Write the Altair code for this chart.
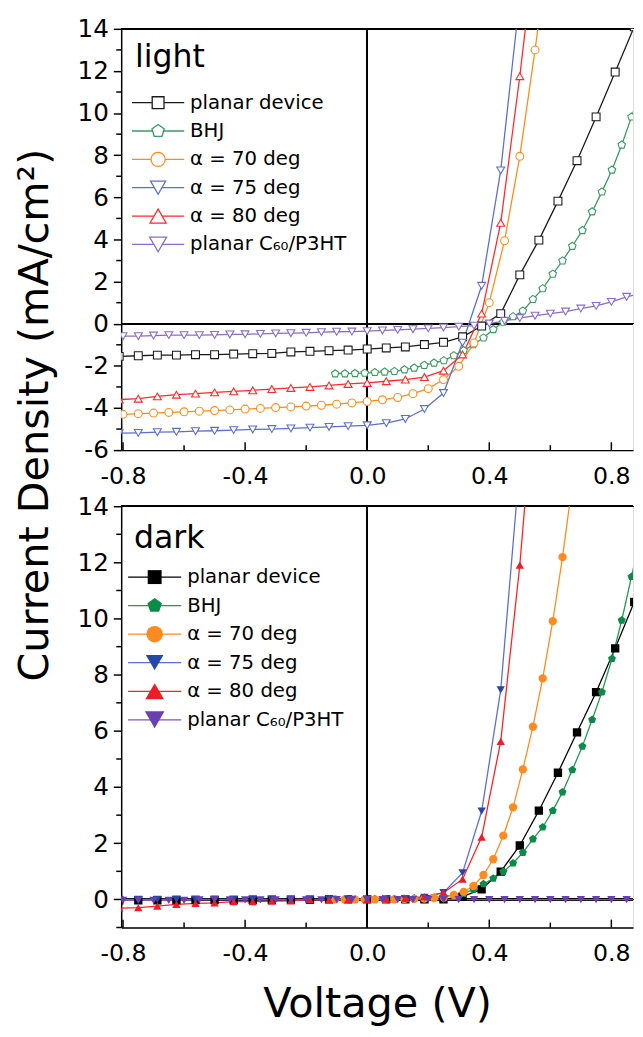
import altair as alt
import pandas as pd

SERIES = ["planar device", "BHJ", "α = 70 deg", "α = 75 deg", "α = 80 deg", "planar C₆₀/P3HT"]

# ---------------- light ----------------
L_PLANAR_V = [-0.8125, -0.75, -0.6875, -0.625, -0.5625, -0.5, -0.4375, -0.375, -0.3125, -0.25, -0.1875, -0.125,
              -0.0625, 0.0, 0.0625, 0.125, 0.1875, 0.25, 0.3125, 0.375, 0.4375, 0.5, 0.5625, 0.625, 0.6875, 0.75,
              0.8125, 0.875]
L_PLANAR_J = [-1.55, -1.52, -1.49, -1.49, -1.47, -1.47, -1.44, -1.42, -1.41, -1.34, -1.31, -1.28, -1.25, -1.20,
              -1.15, -1.10, -0.99, -0.88, -0.62, -0.11, 0.48, 2.32, 3.97, 5.82, 7.74, 9.82, 11.95, 14.1]

L_BHJ_V = [-0.105, -0.073, -0.040, -0.008, 0.025, 0.057, 0.089, 0.122, 0.154, 0.187, 0.219, 0.251, 0.284, 0.316,
           0.348, 0.381, 0.413, 0.446, 0.478, 0.510, 0.543, 0.575, 0.608, 0.640, 0.672, 0.705, 0.737, 0.769, 0.802,
           0.834, 0.866, 0.899]
L_BHJ_J = [-2.37, -2.37, -2.36, -2.34, -2.31, -2.29, -2.26, -2.18, -2.10, -1.97, -1.86, -1.75, -1.51, -1.27, -0.99,
           -0.67, -0.27, 0.08, 0.34, 0.61, 1.16, 1.67, 2.36, 2.99, 3.68, 4.43, 5.32, 6.26, 7.30, 8.49, 9.82, 11.2]

L_A70_V = [-0.8, -0.75, -0.7, -0.65, -0.6, -0.55, -0.5, -0.45, -0.4, -0.35, -0.3, -0.25, -0.2, -0.15, -0.1, -0.05,
           0.0, 0.05, 0.1, 0.15, 0.2, 0.25, 0.3, 0.35, 0.4, 0.45, 0.5, 0.55, 0.6]
L_A70_J = [-4.30, -4.27, -4.24, -4.21, -4.18, -4.15, -4.12, -4.09, -4.05, -4.02, -3.98, -3.95, -3.91, -3.87, -3.82,
           -3.76, -3.69, -3.61, -3.50, -3.32, -3.08, -2.65, -2.02, -0.91, 1.00, 3.94, 7.95, 13.0, 18.5]

L_A75_V = [-0.8125, -0.75, -0.6875, -0.625, -0.5625, -0.5, -0.4375, -0.375, -0.3125, -0.25, -0.1875, -0.125,
           -0.0625, 0.0, 0.0625, 0.125, 0.1875, 0.25, 0.3125, 0.375, 0.4375, 0.5]
L_A75_J = [-5.20, -5.18, -5.15, -5.13, -5.10, -5.08, -5.05, -5.02, -5.00, -4.97, -4.93, -4.90, -4.86, -4.82, -4.72,
           -4.52, -4.05, -3.29, -0.90, 1.80, 7.28, 15.5]

L_A80_V = [-0.8125, -0.75, -0.6875, -0.625, -0.5625, -0.5, -0.4375, -0.375, -0.3125, -0.25, -0.1875, -0.125,
           -0.0625, 0.0, 0.0625, 0.125, 0.1875, 0.25, 0.3125, 0.375, 0.4375, 0.5, 0.5625]
L_A80_J = [-3.60, -3.56, -3.45, -3.37, -3.32, -3.26, -3.21, -3.16, -3.10, -3.05, -3.00, -2.93, -2.86, -2.81, -2.73,
           -2.65, -2.53, -2.23, -1.46, 0.48, 4.79, 11.75, 19.5]

L_C60_V = [-0.8, -0.75, -0.7, -0.65, -0.6, -0.55, -0.5, -0.45, -0.4, -0.35, -0.3, -0.25, -0.2, -0.15, -0.1, -0.05,
           0.0, 0.05, 0.1, 0.15, 0.2, 0.25, 0.3, 0.35, 0.4, 0.45, 0.5, 0.55, 0.6, 0.65, 0.7, 0.75, 0.8, 0.85, 0.9]
L_C60_J = [-0.59, -0.59, -0.56, -0.54, -0.54, -0.54, -0.53, -0.51, -0.50, -0.48, -0.46, -0.45, -0.43, -0.40, -0.38,
           -0.37, -0.35, -0.32, -0.29, -0.26, -0.22, -0.18, -0.14, -0.09, 0.01, 0.14, 0.27, 0.38, 0.48, 0.58, 0.72,
           0.85, 1.04, 1.28, 1.45]

# ---------------- dark ----------------
D_PLANAR_V = [-0.8125, -0.75, -0.6875, -0.625, -0.5625, -0.5, -0.4375, -0.375, -0.3125, -0.25, -0.1875, -0.125,
              -0.0625, 0.0, 0.0625, 0.125, 0.1875, 0.25, 0.3125, 0.375, 0.4375, 0.5, 0.5625, 0.625, 0.6875, 0.75,
              0.8125, 0.875, 0.9375]
D_PLANAR_J = [-0.03, -0.03, -0.03, -0.02, -0.02, -0.02, -0.02, -0.01, -0.01, -0.01, -0.01, 0.0, 0.0, 0.0, 0.0, 0.0,
              0.0, 0.0, 0.1, 0.36, 0.99, 1.92, 3.16, 4.51, 5.95, 7.38, 8.94, 10.59, 12.3]

D_BHJ_V = L_BHJ_V
D_BHJ_J = [0.0, 0.0, 0.0, 0.0, 0.01, 0.01, 0.02, 0.03, 0.04, 0.05, 0.07, 0.10, 0.16, 0.21, 0.36, 0.55, 0.75, 0.99,
           1.29, 1.67, 2.15, 2.57, 3.16, 3.82, 4.61, 5.45, 6.40, 7.38, 8.57, 9.94, 11.49, 13.1]

D_A70_V = [-0.105, -0.073, -0.040, -0.008, 0.025, 0.057, 0.089, 0.122, 0.154, 0.187, 0.219, 0.251, 0.284, 0.316,
           0.348, 0.381, 0.413, 0.446, 0.478, 0.510, 0.543, 0.575, 0.608, 0.640, 0.672]
D_A70_J = [0.0, 0.0, 0.0, 0.0, 0.0, 0.0, 0.0, 0.01, 0.02, 0.03, 0.05, 0.07, 0.16, 0.27, 0.48, 0.87, 1.43, 2.27, 3.28,
           4.63, 6.15, 7.87, 9.91, 12.19, 14.8]

D_A75_V = L_A75_V
D_A75_J = [0.0, 0.0, 0.0, 0.0, 0.0, 0.0, 0.0, 0.0, 0.0, 0.0, 0.0, 0.0, 0.0, 0.0, 0.0, 0.02, 0.07, 0.24, 0.95, 3.14,
           7.46, 15.5]

D_A80_V = L_A80_V
D_A80_J = [-0.31, -0.29, -0.24, -0.18, -0.14, -0.12, -0.08, -0.08, -0.06, -0.05, -0.02, -0.02, -0.01, -0.01, 0.01,
           0.04, 0.10, 0.24, 0.72, 2.22, 5.63, 11.9, 20.0]

D_C60_V = L_C60_V
D_C60_J = [-0.03, -0.03, -0.03, -0.03, -0.03, -0.02, -0.02, -0.02, -0.02, -0.02, -0.02, -0.02, -0.02, -0.02, -0.01,
           -0.01, -0.01, -0.01, -0.01, -0.01, -0.01, -0.01, -0.01, -0.01, -0.01, -0.01, -0.01, -0.01, -0.01, -0.01,
           -0.01, -0.01, -0.01, -0.01, -0.01]

X_MAJOR = [-0.8, -0.4, 0.0, 0.4, 0.8]
X_MINOR = [-0.6, -0.2, 0.2, 0.6]
LIGHT_Y_MAJOR = [-6, -4, -2, 0, 2, 4, 6, 8, 10, 12, 14]
LIGHT_Y_MINOR = [-5, -3, -1, 1, 3, 5, 7, 9, 11, 13]
DARK_Y_MAJOR = [0, 2, 4, 6, 8, 10, 12, 14]
DARK_Y_MINOR = [-1, 1, 3, 5, 7, 9, 11, 13]

LIGHT_LINE = ["#1a1a1a", "#3a9a60", "#ff8c1a", "#5b6fd0", "#ff2a2a", "#8a6cc8"]
DARK_LINE = ["#000000", "#1f9a55", "#ff8c1a", "#5b6fd0", "#ff2020", "#7a55c0"]
DARK_MARK = ["#000000", "#0b8a48", "#ff8a20", "#2448a8", "#ee1c24", "#6a3fb0"]

PENTA = "M0,-1L0.951,-0.309L0.588,0.809L-0.588,0.809L-0.951,-0.309Z"
MARK_SHAPES = ["square", PENTA, "circle", "triangle-down", "triangle-up", "triangle-down"]
LIGHT_LEG_SIZES = [144, 300, 246, 330, 330, 330]
DARK_LEG_SIZES = [200, 400, 289, 420, 420, 420]

XMIN, XMAX = -0.806, 0.871
W = 520
FONT = "DejaVu Sans"


def make_df(pairs):
    rows = []
    for name, (vs, js) in zip(SERIES, pairs):
        for v, j in zip(vs, js):
            rows.append({"series": name, "V": v, "J": j})
    return pd.DataFrame(rows)


light_df = make_df([(L_PLANAR_V, L_PLANAR_J), (L_BHJ_V, L_BHJ_J), (L_A70_V, L_A70_J),
                    (L_A75_V, L_A75_J), (L_A80_V, L_A80_J), (L_C60_V, L_C60_J)])
dark_df = make_df([(D_PLANAR_V, D_PLANAR_J), (D_BHJ_V, D_BHJ_J), (D_A70_V, D_A70_J),
                   (D_A75_V, D_A75_J), (D_A80_V, D_A80_J), (D_C60_V, D_C60_J)])
legend_df = pd.DataFrame({"series": SERIES})


def panel(df, ymin, ymax, y_major, y_minor, h, name, filled, line_colors, mark_colors, y_title, x_title, leg):
    xs = alt.Scale(domain=[XMIN, XMAX], nice=False, zero=False)
    ys = alt.Scale(domain=[ymin, ymax], nice=False, zero=False)
    x_axis = alt.Axis(values=X_MAJOR, ticks=False, grid=False, labelFontSize=24, labelFont=FONT,
                      labelColor="black", labelPadding=15, labelExpr="replace(datum.label, '−', '-')",
                      labelFlush=False, labelOverlap=False, domainColor="black", domainWidth=1.5,
                      title=x_title, titleFontSize=42, titleFont=FONT, titleFontWeight="normal",
                      titleColor="black", titlePadding=18)
    y_kwargs = dict(values=y_major, grid=False, labelOverlap=False, format="d",
                    labelExpr="replace(datum.label, '−', '-')",
                    tickSize=8, tickColor="black", tickWidth=1.5, labelFontSize=25, labelFont=FONT,
                    labelColor="black", labelPadding=5, labelFlush=False, domainColor="black", domainWidth=1.5)
    if y_title:
        y_axis = alt.Axis(title=y_title, titleFontSize=42, titleFont=FONT, titleFontWeight="normal",
                          titleColor="black", titleAngle=270, titleX=-75, titleY=392,
                          titleAlign="center", titleBaseline="alphabetic", **y_kwargs)
    else:
        y_axis = alt.Axis(title="", **y_kwargs)

    X = alt.X("V:Q", scale=xs, axis=x_axis)
    Y = alt.Y("J:Q", scale=ys, axis=y_axis)
    line_scale = alt.Scale(domain=SERIES, range=line_colors)
    mark_scale = alt.Scale(domain=SERIES, range=mark_colors)
    shape_scale = alt.Scale(domain=SERIES, range=MARK_SHAPES)

    lines = alt.Chart(df).mark_line(strokeWidth=1.3, clip=True).encode(
        x=X, y=Y, color=alt.Color("series:N", scale=line_scale, legend=None))
    if filled:
        pts = alt.Chart(df).mark_point(filled=True, size=72, opacity=1, clip=True).encode(
            x=X, y=Y, fill=alt.Fill("series:N", scale=mark_scale, legend=None),
            shape=alt.Shape("series:N", scale=shape_scale, legend=None))
    else:
        pts = alt.Chart(df).mark_point(filled=False, fill="white", size=64, strokeWidth=1.1,
                                       opacity=1, clip=True).encode(
            x=X, y=Y, stroke=alt.Stroke("series:N", scale=mark_scale, legend=None),
            shape=alt.Shape("series:N", scale=shape_scale, legend=None))

    zero_h = alt.Chart(df).mark_rule(color="black", strokeWidth=1.5).encode(y=alt.datum(0))
    zero_v = alt.Chart(df).mark_rule(color="black", strokeWidth=1.5).encode(x=alt.datum(0))
    top = alt.Chart(df).mark_rule(color="black", strokeWidth=1.5).encode(y=alt.datum(ymax))
    tick_major = alt.Chart(pd.DataFrame({"V": X_MAJOR})).mark_rule(color="black", strokeWidth=1.5).encode(
        x=alt.X("V:Q"), y=alt.value(h), y2=alt.value(h - 8))
    tick_minor = alt.Chart(pd.DataFrame({"V": X_MINOR})).mark_rule(color="black", strokeWidth=1.5).encode(
        x=alt.X("V:Q"), y=alt.value(h), y2=alt.value(h - 5))
    y_minor_ticks = alt.Chart(pd.DataFrame({"J": y_minor})).mark_rule(color="black", strokeWidth=1.5).encode(
        y=alt.Y("J:Q"), x=alt.value(-5), x2=alt.value(0))

    inner = alt.layer(zero_h, zero_v, top, tick_major, tick_minor, y_minor_ticks, lines, pts)

    # ---- legend drawn inside the plot ----
    row_y = alt.Y("series:N", sort=SERIES, axis=None,
                  scale=alt.Scale(type="point", domain=SERIES, range=[leg["y0"], leg["y1"]], padding=0))
    leg_lines = alt.Chart(legend_df).mark_rule(strokeWidth=1.3).encode(
        x=alt.value(leg["x0"]), x2=alt.value(leg["x1"]), y=row_y,
        color=alt.Color("series:N", scale=line_scale, legend=None))
    size_enc = alt.Size("series:N", scale=alt.Scale(domain=SERIES, range=leg["sizes"]), legend=None)
    if filled:
        leg_pts = alt.Chart(legend_df).mark_point(filled=True, opacity=1).encode(
            x=alt.value(leg["xm"]), y=row_y, size=size_enc,
            fill=alt.Fill("series:N", scale=mark_scale, legend=None),
            shape=alt.Shape("series:N", scale=shape_scale, legend=None))
    else:
        leg_pts = alt.Chart(legend_df).mark_point(filled=False, fill="white", strokeWidth=1.3,
                                                  opacity=1).encode(
            x=alt.value(leg["xm"]), y=row_y, size=size_enc,
            stroke=alt.Stroke("series:N", scale=mark_scale, legend=None),
            shape=alt.Shape("series:N", scale=shape_scale, legend=None))
    leg_text = alt.Chart(legend_df).mark_text(align="left", baseline="middle", font=FONT, fontSize=20,
                                              color="black").encode(
        x=alt.value(leg["xt"]), y=row_y, text="series:N")
    leg_title = alt.Chart(pd.DataFrame({"t": [name]})).mark_text(
        align="left", baseline="alphabetic", font=FONT, fontSize=32, color="black").encode(
        x=alt.value(leg["tx"]), y=alt.value(leg["ty"]), text="t:N")

    return alt.layer(inner, leg_lines, leg_pts, leg_text, leg_title).resolve_scale(
        y="independent").properties(width=W, height=h)


top_panel = panel(light_df, -6, 14, LIGHT_Y_MAJOR, LIGHT_Y_MINOR, 428, "light", False, LIGHT_LINE, LIGHT_LINE,
                  "Current Density (mA/cm²)", None,
                  dict(y0=75, y1=219, x0=11, x1=64, xm=37.5, xt=70, tx=14, ty=39, sizes=LIGHT_LEG_SIZES))
bottom_panel = panel(dark_df, -1, 14, DARK_Y_MAJOR, DARK_Y_MINOR, 428, "dark", True, DARK_LINE, DARK_MARK,
                     None, "Voltage (V)",
                     dict(y0=72, y1=217, x0=7, x1=61, xm=34, xt=67, tx=13, ty=42, sizes=DARK_LEG_SIZES))

chart = alt.vconcat(top_panel, bottom_panel, spacing=57, bounds="flush").resolve_scale(
    color="independent", shape="independent", stroke="independent", fill="independent", size="independent"
).properties(
    padding={"left": 5, "top": 0, "right": 0, "bottom": 0}
).configure_view(stroke=None).configure(font=FONT)

chart.save("out.html", embed_options={"renderer": "svg", "actions": False})
